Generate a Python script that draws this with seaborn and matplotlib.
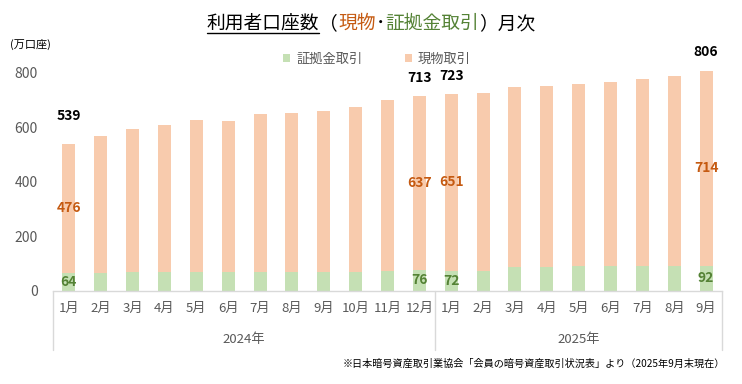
import matplotlib
matplotlib.use("Agg")
import matplotlib.pyplot as plt
import matplotlib.transforms as mtransforms
from matplotlib.patches import Patch
from matplotlib.lines import Line2D
import seaborn as sns
import pandas as pd

# ---------------- data ----------------
months = ["1月", "2月", "3月", "4月", "5月", "6月", "7月", "8月", "9月", "10月", "11月", "12月",
          "1月", "2月", "3月", "4月", "5月", "6月", "7月", "8月", "9月"]
years = ["2024年", "2025年"]
year_counts = [12, 9]
spot = [476, 501, 525, 540, 558, 554, 578, 581, 588, 603, 624, 637,
        651, 654, 661, 665, 671, 678, 689, 698, 714]
margin = [64, 65, 67, 67, 67, 67, 69, 70, 70, 70, 74, 76,
          72, 73, 88, 88, 89, 89, 89, 91, 92]
total = [539, 566, 592, 607, 625, 621, 647, 651, 658, 673, 698, 713,
         723, 727, 749, 753, 760, 767, 778, 789, 806]
labeled = [0, 11, 12, 20]
total_label_offset_px = [28, 18, 18, 19]

series_names = ["証拠金取引", "現物取引"]
c_margin = "#C5E0B4"
c_spot = "#F8CBAD"
c_margin_txt = "#548235"
c_spot_txt = "#C55A11"
gray = "#595959"
axis_gray = "#D9D9D9"

# ---------------- style ----------------
sns.set_style("white")
plt.rcParams["font.family"] = ["Noto Sans CJK JP", "DejaVu Sans"]

df = pd.DataFrame({
    "idx": list(range(len(months))),
    "spot": spot,
    "margin": margin,
})
df["stack"] = df["spot"] + df["margin"]

W, H = 742, 384
fig = plt.figure(figsize=(W / 100, H / 100), dpi=100)
x0, x1 = 53, 722
ybase, ytop = 290.7, 40
ax = fig.add_axes([x0 / W, 1 - ybase / H, (x1 - x0) / W, (ybase - ytop) / H])

sns.barplot(data=df, x="idx", y="stack", color=c_spot, saturation=1, width=0.41,
            errorbar=None, linewidth=0, ax=ax)
sns.barplot(data=df, x="idx", y="margin", color=c_margin, saturation=1, width=0.41,
            errorbar=None, linewidth=0, ax=ax)

ax.set_xlim(-0.5, len(months) - 0.5)
ax.set_ylim(0, 920)
ax.set_yticks([0, 200, 400, 600, 800])
ax.set_xticks(range(len(months)))
ax.set_xticklabels(months)
ax.set_xlabel("")
ax.set_ylabel("")
for s in ["top", "right", "left"]:
    ax.spines[s].set_visible(False)
ax.spines["bottom"].set_color(axis_gray)
ax.spines["bottom"].set_linewidth(1)
ax.tick_params(axis="x", length=0, pad=8, labelsize=9.5, labelcolor=gray)
ax.tick_params(axis="y", length=0, pad=11, labelsize=10, labelcolor=gray)

# two-level category axis
blend = mtransforms.blended_transform_factory(ax.transData, ax.transAxes)
depth = -(350 - ybase) / (ybase - ytop)
bounds = [-0.5]
for n in year_counts:
    bounds.append(bounds[-1] + n)
for b in bounds:
    ax.add_line(Line2D([b, b], [0, depth], transform=blend, color=axis_gray,
                       lw=1, clip_on=False))
year_y = -(339 - ybase) / (ybase - ytop)
for i, yl in enumerate(years):
    cx = (bounds[i] + bounds[i + 1]) / 2
    ax.text(cx, year_y, yl, transform=blend, ha="center", va="center",
            fontsize=9.5, color=gray)

# data labels
for k, i in enumerate(labeled):
    top = spot[i] + margin[i]
    ax.annotate(str(total[i]), (i, top), xytext=(0, total_label_offset_px[k]),
                textcoords="offset pixels", ha="center", va="center",
                fontsize=10, fontweight="bold", color="black")
    ax.text(i, margin[i] + spot[i] / 2, str(spot[i]), ha="center", va="center",
            fontsize=10, fontweight="bold", color=c_spot_txt)
    ax.text(i, margin[i] / 2, str(margin[i]), ha="center", va="center",
            fontsize=10, fontweight="bold", color=c_margin_txt)

# unit label
fig.text(10 / W, 1 - 44 / H, "(万口座)", ha="left", va="center", fontsize=8, color="black")

# legend
handles = [Patch(facecolor=c_margin, edgecolor="none"), Patch(facecolor=c_spot, edgecolor="none")]
leg = fig.legend(handles, series_names, loc="center", bbox_to_anchor=(377 / W, 1 - 59 / H),
                 ncol=2, frameon=False, handlelength=0.55, handleheight=0.55,
                 handletextpad=0.45, columnspacing=3.2, fontsize=9.5)
for t in leg.get_texts():
    t.set_color(gray)

# source note
fig.text(725 / W, 1 - 364 / H,
         "※日本暗号資産取引業協会「会員の暗号資産取引状況表」より（2025年9月末現在）",
         ha="right", va="center", fontsize=7.3, color="black")

# multi-coloured title
pieces = [("利用者口座数", "black"), ("（", "black"), ("現物", c_spot_txt), ("･", "black"),
          ("証拠金取引", c_margin_txt), ("）月次", "black")]
title_size = 13.5
texts = [fig.text(0, 0, p, color=c, fontsize=title_size, va="baseline", ha="left")
         for p, c in pieces]
fig.canvas.draw()
renderer = fig.canvas.get_renderer()
widths = [t.get_window_extent(renderer).width for t in texts]
total_w = sum(widths)
cx_title = 371
xpos = cx_title - total_w / 2
base_y = 1 - 29 / H
starts = []
for t, w in zip(texts, widths):
    t.set_position((xpos / W, base_y))
    starts.append(xpos)
    xpos += w
ul_y = 1 - 33 / H
fig.add_artist(Line2D([starts[0] / W, (starts[0] + widths[0]) / W], [ul_y, ul_y],
                      transform=fig.transFigure, color="black", lw=1))

fig.savefig("out.png", dpi=100)
